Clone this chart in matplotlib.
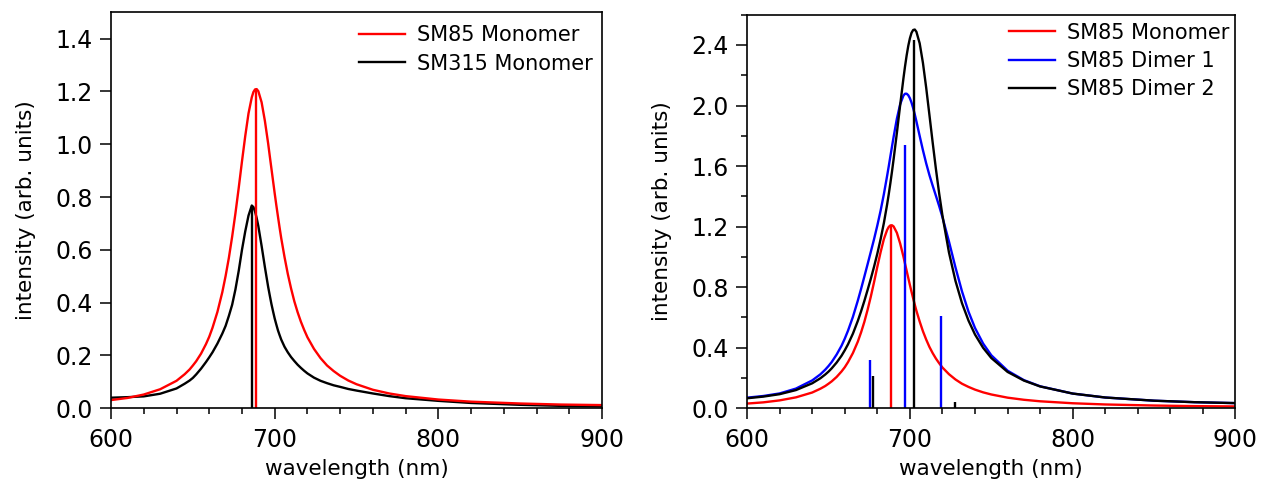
import matplotlib
matplotlib.use("Agg")
import matplotlib.pyplot as plt
from matplotlib.ticker import MultipleLocator, FormatStrFormatter

# ---------------- data ----------------
wavelength = [600, 610, 620, 630, 640, 645, 648, 650, 652, 655,
              658, 660, 662, 665, 668, 670, 672, 674, 676, 678,
              680, 682, 684, 686, 687, 688, 689, 690, 692, 694,
              696, 697, 698, 699, 700, 701, 702, 703, 704, 706,
              708, 710, 712, 714, 716, 718, 720, 724, 728, 732,
              736, 740, 745, 750, 760, 770, 780, 800, 820, 850,
              875, 900]

sm85_monomer = [0.031, 0.039, 0.052, 0.072, 0.104, 0.129, 0.147, 0.162, 0.178, 0.207,
                0.243, 0.271, 0.305, 0.365, 0.440, 0.501, 0.570, 0.650, 0.738, 0.834,
                0.935, 1.031, 1.117, 1.178, 1.198, 1.208, 1.209, 1.201, 1.159, 1.089,
                1.003, 0.955, 0.908, 0.861, 0.814, 0.769, 0.726, 0.684, 0.644, 0.573,
                0.509, 0.454, 0.405, 0.364, 0.328, 0.297, 0.269, 0.225, 0.190, 0.162,
                0.141, 0.123, 0.105, 0.091, 0.070, 0.056, 0.046, 0.033, 0.025, 0.018,
                0.014, 0.012]

sm315_monomer = [0.040, 0.042, 0.045, 0.055, 0.075, 0.093, 0.105, 0.115, 0.128, 0.150,
                 0.175, 0.193, 0.212, 0.245, 0.283, 0.312, 0.350, 0.392, 0.450, 0.520,
                 0.600, 0.670, 0.730, 0.768, 0.762, 0.745, 0.720, 0.690, 0.615, 0.535,
                 0.460, 0.427, 0.395, 0.367, 0.340, 0.317, 0.295, 0.277, 0.260, 0.233,
                 0.212, 0.194, 0.179, 0.165, 0.153, 0.142, 0.132, 0.116, 0.104, 0.095,
                 0.087, 0.081, 0.073, 0.067, 0.056, 0.046, 0.038, 0.028, 0.020, 0.013,
                 0.009, 0.007]

sm85_dimer1 = [0.070, 0.081, 0.098, 0.130, 0.184, 0.224, 0.255, 0.279, 0.306, 0.355,
               0.413, 0.460, 0.513, 0.604, 0.711, 0.788, 0.869, 0.951, 1.034, 1.118,
               1.208, 1.305, 1.414, 1.535, 1.598, 1.664, 1.729, 1.793, 1.913, 2.008,
               2.065, 2.078, 2.078, 2.068, 2.048, 2.019, 1.983, 1.941, 1.895, 1.799,
               1.705, 1.618, 1.540, 1.470, 1.403, 1.335, 1.262, 1.101, 0.930, 0.772,
               0.638, 0.530, 0.427, 0.350, 0.248, 0.186, 0.145, 0.097, 0.071, 0.050,
               0.040, 0.034]

sm85_dimer2 = [0.066, 0.077, 0.093, 0.120, 0.165, 0.198, 0.223, 0.242, 0.264, 0.302,
               0.347, 0.383, 0.423, 0.493, 0.577, 0.640, 0.708, 0.781, 0.856, 0.936,
               1.022, 1.117, 1.223, 1.346, 1.414, 1.487, 1.564, 1.646, 1.819, 2.001,
               2.177, 2.258, 2.331, 2.394, 2.444, 2.480, 2.499, 2.502, 2.487, 2.411,
               2.282, 2.118, 1.937, 1.754, 1.579, 1.417, 1.272, 1.029, 0.841, 0.694,
               0.579, 0.487, 0.399, 0.332, 0.240, 0.183, 0.144, 0.097, 0.071, 0.050,
               0.040, 0.034]

# stick transitions
left_monomer_stick_pos = [688.6]
left_monomer_stick_h = [1.21]
sm315_stick_pos = [685.9]
sm315_stick_h = [0.768]

right_monomer_stick_pos = [688.3]
right_monomer_stick_h = [1.205]
dimer1_stick_pos = [675.5, 697.0, 719.3]
dimer1_stick_h = [0.32, 1.74, 0.61]
dimer2_stick_pos = [677.2, 702.8, 727.9]
dimer2_stick_h = [0.21, 2.43, 0.04]

left_labels = ["SM85 Monomer", "SM315 Monomer"]
right_labels = ["SM85 Monomer", "SM85 Dimer 1", "SM85 Dimer 2"]

# ---------------- style ----------------
plt.rcParams['font.family'] = ['DejaVu Sans']
RED = '#ff0000'
BLUE = '#0000ff'
BLACK = '#000000'
LW = 1.7

fig = plt.figure(figsize=(12.62, 4.82), dpi=100)
ax1 = fig.add_axes([0.088, 0.153, 0.389, 0.8215])
ax2 = fig.add_axes([0.592, 0.153, 0.387, 0.8165])


def style(ax, ymax, ymajor, yminor=None):
    ax.set_xlim(600, 900)
    ax.set_ylim(0, ymax)
    ax.xaxis.set_major_locator(MultipleLocator(100))
    ax.xaxis.set_minor_locator(MultipleLocator(20))
    ax.yaxis.set_major_locator(MultipleLocator(ymajor))
    if yminor:
        ax.yaxis.set_minor_locator(MultipleLocator(yminor))
    ax.yaxis.set_major_formatter(FormatStrFormatter('%.1f'))
    ax.tick_params(which='major', direction='out', length=8, width=1.1,
                   labelsize=17, pad=5, top=False, right=False)
    ax.tick_params(axis='x', which='major', pad=6)
    ax.tick_params(which='minor', direction='out', length=4.5, width=1.1,
                   top=False, right=False)
    for s in ax.spines.values():
        s.set_linewidth(1.2)
    ax.set_xlabel('wavelength (nm)', fontsize=15.5, labelpad=5)
    ax.set_ylabel('intensity (arb. units)', fontsize=15.5, labelpad=14)


# left panel
ax1.plot(wavelength, sm315_monomer, color=BLACK, lw=LW, label=left_labels[1])
ax1.plot(wavelength, sm85_monomer, color=RED, lw=LW, label=left_labels[0])
ax1.vlines(sm315_stick_pos, 0, sm315_stick_h, color=BLACK, lw=LW)
ax1.vlines(left_monomer_stick_pos, 0, left_monomer_stick_h, color=RED, lw=LW)
style(ax1, 1.5, 0.2)
h, l = ax1.get_legend_handles_labels()
ax1.legend([h[1], h[0]], [l[1], l[0]], loc='upper left',
           bbox_to_anchor=(0.505, 0.967), frameon=False, fontsize=15,
           handlelength=2.2, handletextpad=0.6, labelspacing=0.4,
           borderpad=0, borderaxespad=0)

# right panel
ax2.plot(wavelength, sm85_monomer, color=RED, lw=LW, label=right_labels[0])
ax2.plot(wavelength, sm85_dimer1, color=BLUE, lw=LW, label=right_labels[1])
ax2.plot(wavelength, sm85_dimer2, color=BLACK, lw=LW, label=right_labels[2])
ax2.vlines(right_monomer_stick_pos, 0, right_monomer_stick_h, color=RED, lw=LW)
ax2.vlines(dimer1_stick_pos, 0, dimer1_stick_h, color=BLUE, lw=LW)
ax2.vlines(dimer2_stick_pos, 0, dimer2_stick_h, color=BLACK, lw=LW)
style(ax2, 2.6, 0.4, 0.2)
ax2.legend(loc='upper left', bbox_to_anchor=(0.536, 0.98), frameon=False,
           fontsize=15, handlelength=2.2, handletextpad=0.6,
           labelspacing=0.4, borderpad=0, borderaxespad=0)

fig.savefig('out.png', dpi=100)
